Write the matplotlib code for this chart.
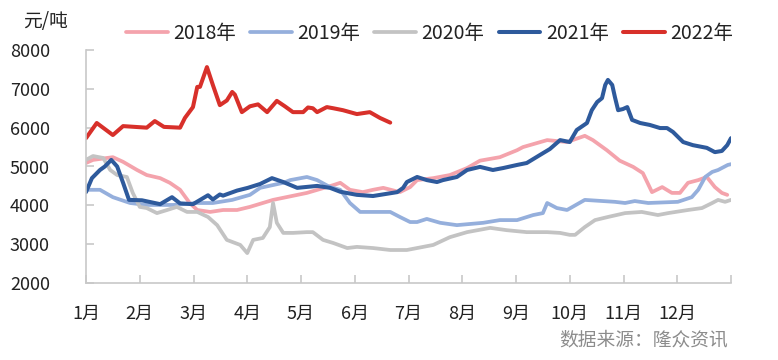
import numpy as np
import matplotlib
matplotlib.use('Agg')
import matplotlib.pyplot as plt

plt.rcParams['font.family'] = ['Noto Sans CJK SC', 'DejaVu Sans']

# x is position in months (0 = start of Jan, 12 = end of Dec)
x_2018 = [0, 0.13, 0.5, 0.69, 0.95, 1.13, 1.38, 1.56, 1.75, 1.93, 2.07, 2.31, 2.55, 2.81, 3.05,
          3.48, 4.11, 4.6, 4.73, 4.91, 5.15, 5.34, 5.53, 5.84, 6.03, 6.16, 6.46, 6.77, 7.09, 7.33,
          7.7, 8.02, 8.13, 8.58, 8.95, 9.28, 9.43, 9.69, 9.93, 10.18, 10.36, 10.53, 10.72, 10.9,
          11.05, 11.2, 11.39, 11.55, 11.7, 11.83, 11.93]
y_2018 = [5090, 5170, 5240, 5120, 4910, 4780, 4700, 4580, 4400, 4060, 3880, 3830, 3880, 3880, 3960,
          4140, 4320, 4520, 4580, 4400, 4340, 4400, 4450, 4340, 4470, 4650, 4700, 4780, 4960, 5150,
          5240, 5420, 5500, 5680, 5630, 5790, 5680, 5420, 5150, 4990, 4830, 4340, 4470, 4320,
          4320, 4580, 4650, 4730, 4470, 4320, 4270]

x_2019 = [0, 0.26, 0.5, 0.82, 1.13, 1.62, 2.07, 2.36, 2.72, 3.05, 3.24, 3.67, 3.8, 4.11, 4.3,
          4.54, 4.73, 4.91, 5.1, 5.34, 5.66, 5.84, 6.03, 6.16, 6.34, 6.59, 6.9, 7.39, 7.7, 8.02,
          8.32, 8.5, 8.58, 8.76, 8.95, 9.28, 9.84, 10.03, 10.21, 10.46, 11.01, 11.27, 11.39, 11.52,
          11.65, 11.76, 11.94, 12.0]
y_2019 = [4400, 4400, 4210, 4060, 4010, 4010, 4060, 4060, 4140, 4270, 4450, 4580, 4650, 4730, 4650,
          4470, 4400, 4060, 3830, 3830, 3830, 3700, 3570, 3570, 3650, 3550, 3490, 3550, 3620, 3620,
          3750, 3800, 4060, 3930, 3880, 4140, 4090, 4060, 4110, 4060, 4090, 4210, 4400, 4730,
          4860, 4910, 5040, 5060]

x_2020 = [0, 0.13, 0.32, 0.45, 0.58, 0.76, 0.87, 1.0, 1.13, 1.32, 1.51, 1.69, 1.88, 2.07, 2.27,
          2.44, 2.62, 2.87, 3.0, 3.11, 3.29, 3.42, 3.48, 3.55, 3.67, 3.85, 4.11, 4.22, 4.41, 4.6,
          4.86, 5.04, 5.34, 5.66, 5.97, 6.16, 6.46, 6.77, 7.09, 7.52, 7.83, 8.2, 8.58, 8.82, 9.0,
          9.1, 9.28, 9.47, 9.71, 10.03, 10.34, 10.64, 10.83, 11.2, 11.46, 11.65, 11.76, 11.89, 12.0]
y_2020 = [5170, 5270, 5220, 4910, 4780, 4730, 4320, 3960, 3930, 3800, 3880, 3960, 3830, 3830, 3700,
          3490, 3110, 2980, 2770, 3110, 3160, 3440, 4060, 3550, 3290, 3290, 3310, 3310, 3110, 3030,
          2900, 2930, 2900, 2850, 2850, 2900, 2980, 3180, 3310, 3420, 3360, 3310, 3310, 3290, 3240,
          3240, 3440, 3620, 3700, 3800, 3830, 3750, 3800, 3880, 3930, 4060, 4140, 4090, 4140]

x_2021 = [0, 0.11, 0.26, 0.35, 0.47, 0.58, 0.69, 0.8, 1.04, 1.38, 1.6, 1.75, 1.99, 2.27, 2.36,
          2.49, 2.55, 2.81, 3.01, 3.24, 3.46, 3.67, 3.93, 4.3, 4.54, 4.73, 5.04, 5.34, 5.79, 5.9,
          5.97, 6.16, 6.34, 6.53, 6.64, 6.9, 7.09, 7.33, 7.57, 7.76, 8.02, 8.2, 8.45, 8.63, 8.82,
          9.0, 9.13, 9.32, 9.41, 9.51, 9.6, 9.66, 9.71, 9.79, 9.84, 9.9, 9.99, 10.07, 10.16, 10.31,
          10.49, 10.68, 10.81, 10.92, 11.11, 11.29, 11.55, 11.7, 11.83, 11.93, 12.0]
y_2021 = [4340, 4700, 4910, 5000, 5170, 5000, 4580, 4140, 4130, 4030, 4210, 4050, 4030, 4260, 4150,
          4280, 4250, 4380, 4450, 4550, 4700, 4600, 4450, 4500, 4450, 4350, 4270, 4240, 4340, 4450,
          4600, 4730, 4650, 4600, 4650, 4730, 4910, 4990, 4910, 4960, 5040, 5090, 5300, 5450, 5680,
          5630, 5940, 6120, 6450, 6660, 6760, 7100, 7230, 7100, 6790, 6450, 6480, 6530, 6200, 6120,
          6070, 5990, 5990, 5890, 5630, 5550, 5480, 5370, 5400, 5550, 5730]

x_2022 = [0, 0.2, 0.5, 0.69, 1.13, 1.28, 1.45, 1.75, 1.84, 1.99, 2.07, 2.12, 2.25, 2.36, 2.49,
          2.62, 2.72, 2.77, 2.9, 3.05, 3.2, 3.37, 3.55, 3.7, 3.85, 4.04, 4.13, 4.22, 4.3, 4.48,
          4.6, 4.78, 5.04, 5.28, 5.47, 5.66]
y_2022 = [5730, 6120, 5810, 6040, 6000, 6170, 6020, 6000, 6250, 6530, 7050, 7050, 7560, 7100, 6580,
          6700, 6920, 6850, 6400, 6550, 6600, 6400, 6690, 6550, 6400, 6400, 6520, 6500, 6400, 6530,
          6500, 6450, 6350, 6400, 6250, 6130]

month_labels = ['1月', '2月', '3月', '4月', '5月', '6月', '7月', '8月', '9月', '10月', '11月', '12月']

series = [
    ('2018年', x_2018, y_2018, '#F4A3AC', 2.7),
    ('2019年', x_2019, y_2019, '#95AFDC', 2.7),
    ('2020年', x_2020, y_2020, '#C3C3C3', 2.7),
    ('2021年', x_2021, y_2021, '#2E5A9C', 2.9),
    ('2022年', x_2022, y_2022, '#D8302A', 2.9),
]

txt = '#222222'

fig = plt.figure(figsize=(7.78, 3.6), dpi=100)
ax = fig.add_axes([86 / 778, 1 - 283 / 360, 645 / 778, 233 / 360])

for name, xs, ys, c, lw in series:
    ax.plot(xs, ys, color=c, lw=lw, label=name, solid_capstyle='round')

ax.set_xlim(0, 12)
ax.set_ylim(2000, 8000)
ax.set_yticks(np.arange(2000, 8001, 1000))
ax.set_xticks(np.arange(0, 13))
ax.set_xticklabels(month_labels + [''])

for s in ['top', 'right']:
    ax.spines[s].set_visible(False)
for s in ['left', 'bottom']:
    ax.spines[s].set_color('#C8C8C8')
    ax.spines[s].set_linewidth(1.2)

ax.tick_params(axis='both', direction='in', length=6, color='#C8C8C8', width=1.2,
               labelsize=13, labelcolor=txt)
ax.tick_params(axis='x', pad=16)
ax.tick_params(axis='y', pad=26)

leg = fig.legend(loc='center', bbox_to_anchor=(0.552, 0.908), ncol=5, frameon=False,
                 fontsize=14, handlelength=2.15, handletextpad=0.28, columnspacing=0.72)
for t in leg.get_texts():
    t.set_color(txt)

fig.text(23 / 778, 1 - 22 / 360, '元/吨', fontsize=13.5, color=txt, va='center', ha='left')
fig.text(728 / 778, 1 - 340 / 360, '数据来源：隆众资讯', fontsize=13.5, color='#8C8C8C',
         va='center', ha='right')

fig.savefig('out.png', dpi=100)
